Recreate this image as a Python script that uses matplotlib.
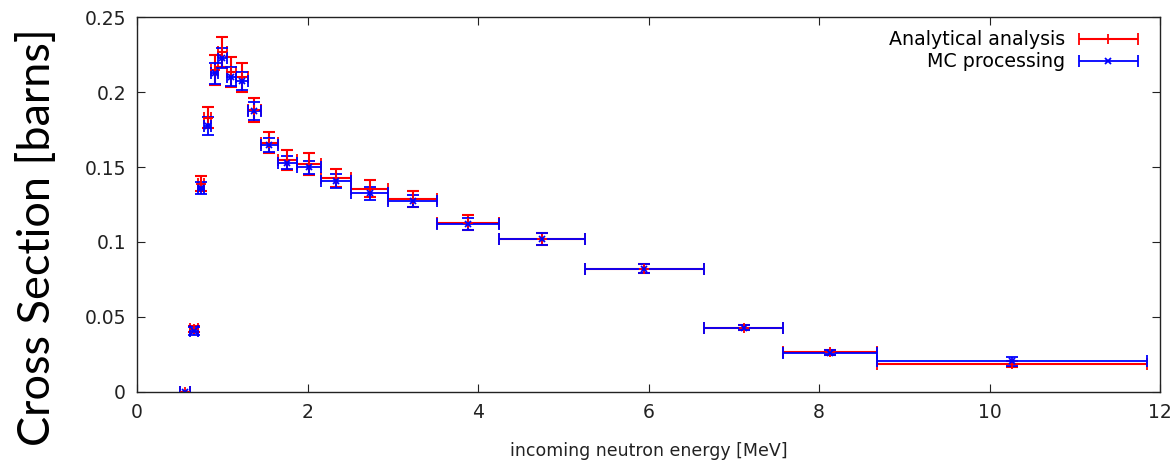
import matplotlib
matplotlib.use("Agg")
import matplotlib.pyplot as plt
from matplotlib.container import ErrorbarContainer
from matplotlib.legend_handler import HandlerErrorbar
import numpy as np

# bin centres and edges [MeV]
energy = [0.56, 0.665, 0.75, 0.83, 0.91, 1.00, 1.105, 1.235, 1.375, 1.55, 1.765,
          2.02, 2.335, 2.73, 3.235, 3.885, 4.75, 5.95, 7.115, 8.13, 10.265]
e_lo = [0.50, 0.62, 0.71, 0.79, 0.87, 0.95, 1.05, 1.16, 1.30, 1.45, 1.65,
        1.88, 2.16, 2.51, 2.95, 3.52, 4.25, 5.25, 6.65, 7.58, 8.68]
e_hi = [0.62, 0.71, 0.79, 0.87, 0.95, 1.05, 1.16, 1.30, 1.45, 1.65, 1.88,
        2.16, 2.51, 2.95, 3.52, 4.25, 5.25, 6.65, 7.58, 8.68, 11.85]

# analytical analysis
xs_ana = [0.0, 0.042, 0.139, 0.183, 0.215, 0.227, 0.2135, 0.2098, 0.1883, 0.1662, 0.1547,
          0.1522, 0.1429, 0.1356, 0.1287, 0.1127, 0.1022, 0.0822, 0.0429, 0.0264, 0.0189]
err_ana = [0.0, 0.0022, 0.005, 0.007, 0.010, 0.010, 0.010, 0.0097, 0.008, 0.007, 0.0066,
           0.0073, 0.006, 0.0057, 0.0055, 0.005, 0.004, 0.003, 0.0015, 0.0015, 0.002]

# MC processing
xs_mc = [0.0, 0.0405, 0.1358, 0.1776, 0.2125, 0.2225, 0.2102, 0.2076, 0.1876, 0.1647, 0.1529,
         0.1498, 0.1407, 0.1324, 0.1273, 0.112, 0.1018, 0.082, 0.0429, 0.0262, 0.0204]
err_mc = [0.0, 0.0025, 0.004, 0.006, 0.007, 0.0067, 0.0065, 0.006, 0.006, 0.0047, 0.0045,
          0.0045, 0.0045, 0.0045, 0.004, 0.004, 0.004, 0.003, 0.0015, 0.0015, 0.003]

x = np.array(energy)
xerr = [x - np.array(e_lo), np.array(e_hi) - x]

plt.rcParams['font.family'] = ['DejaVu Sans']
fig = plt.figure(figsize=(11.76, 4.61), dpi=100)
ax = fig.add_axes([0.1165, 0.1497, 0.8699, 0.8134])

# horizontal bars carry the legend entry (gnuplot style key), vertical bars drawn separately
for ys, err, col, mk, lw, ms, lab in [(xs_ana, err_ana, 'red', '+', 1.5, 7, 'Analytical analysis'),
                                      (xs_mc, err_mc, 'blue', 'x', 1.3, 5, 'MC processing')]:
    ax.errorbar(x, ys, xerr=xerr, fmt=mk, color=col, ecolor=col, elinewidth=lw,
                capsize=4, capthick=lw, markersize=ms, mew=1.3, label=lab)
    ax.errorbar(x, ys, yerr=err, fmt='none', ecolor=col, elinewidth=lw,
                capsize=4, capthick=lw)

ax.set_xlim(0, 12)
ax.set_ylim(0, 0.25)
ax.set_xticks(range(0, 13, 2))
ax.set_yticks([0, 0.05, 0.1, 0.15, 0.2, 0.25])
ax.set_yticklabels(['0', '0.05', '0.1', '0.15', '0.2', '0.25'])
ax.tick_params(direction='in', length=6, top=True, right=True, labelsize=13.5,
               colors='#222222', pad=8)
for s in ax.spines.values():
    s.set_linewidth(1.0)
    s.set_color('#222222')

ax.set_xlabel('incoming neutron energy [MeV]', fontsize=12.5, color='#222222',
              labelpad=14)
fig.text(0.032, 0.485, 'Cross Section [barns]', rotation=90, va='center', ha='center',
         fontsize=32.5, family=['Lato', 'DejaVu Sans'])

ax.legend(loc='upper right', frameon=False, markerfirst=False, fontsize=13.7,
          handlelength=3.3, borderaxespad=0.3, labelspacing=0.15, handletextpad=0.6,
          bbox_to_anchor=(0.993, 1.0),
          handler_map={ErrorbarContainer: HandlerErrorbar(xerr_size=1.55)})

fig.savefig('out.png', dpi=100)
